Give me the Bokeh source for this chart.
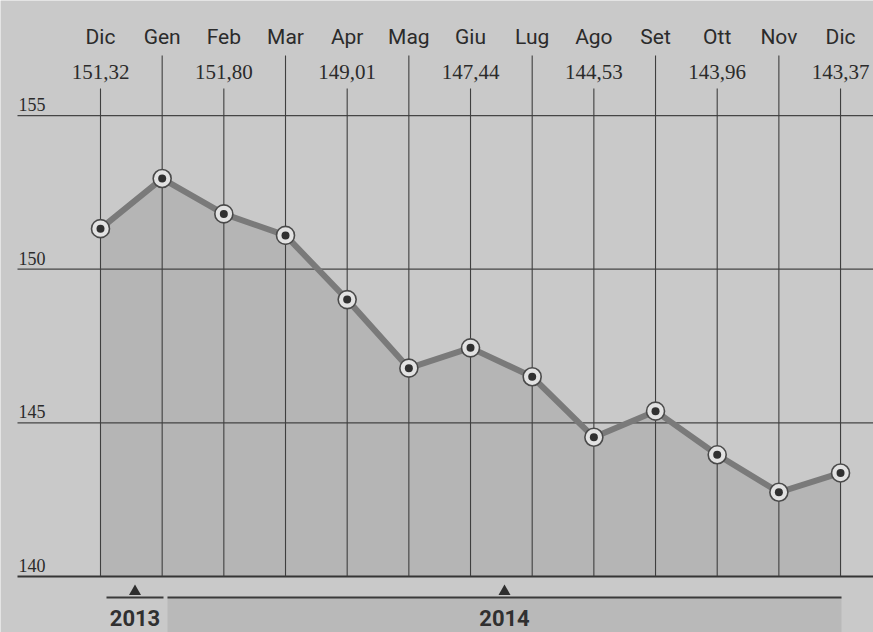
from bokeh.plotting import figure
from bokeh.models import Range1d
from bokeh.core.properties import value
from bokeh.embed import file_html
from bokeh.resources import INLINE

# ---- data ----
months = ["Dic", "Gen", "Feb", "Mar", "Apr", "Mag", "Giu", "Lug", "Ago", "Set", "Ott", "Nov", "Dic"]
values = [151.32, 152.95, 151.80, 151.10, 149.01, 146.78, 147.44, 146.50, 144.53, 145.38, 143.96, 142.74, 143.37]
y_ticks = [140, 145, 150, 155]
years = ["2013", "2014"]

# ---- layout helpers (pixel -> data units) ----
FW, FH = 873, 632
DX = 61.67          # px per month
X0 = 100.0          # x of first month
PY140 = 576.0       # y of value 140
PPU = 30.73         # px per unit

def ix(px):
    return (px - X0) / DX

def vy(py):
    return 140 + (PY140 - py) / PPU

xs, xe = ix(0), ix(FW)
ye, ys = vy(0), vy(FH)

BG = "#c9c9c9"
p = figure(width=FW, height=FH, x_range=Range1d(xs, xe), y_range=Range1d(ys, ye),
           output_backend="svg", toolbar_location=None, min_border=0)
p.axis.visible = False
p.grid.visible = False
p.outline_line_color = None
p.background_fill_color = BG
p.border_fill_color = BG

idx = list(range(len(months)))

# area under the line
p.varea(x=idx, y1=[140] * len(idx), y2=values, fill_color="#b5b5b5")

# horizontal grid lines
p.segment(x0=[ix(17)] * 3, x1=[xe] * 3, y0=y_ticks[1:], y1=y_ticks[1:],
          line_color="#454545", line_width=1.3)
p.segment(x0=[ix(17)], x1=[xe], y0=[140], y1=[140], line_color="#353535", line_width=2)

# vertical lines
tops = [vy(88) if i % 2 == 0 else vy(55) for i in idx]
p.segment(x0=idx, x1=idx, y0=[140] * len(idx), y1=tops, line_color="#3f3f3f", line_width=1.1)

# series line and markers
p.line(idx, values, line_color="#7a7a7a", line_width=6)
p.scatter(idx, values, size=18, fill_color="#e2e2e2", line_color="#4a4a4a", line_width=1.6)
p.scatter(idx, values, size=8, fill_color="#303030", line_color=None)

# month labels
p.text(x=idx, y=[vy(36)] * len(idx), text=months, text_align="center",
       text_baseline="middle", text_font=value("Roboto"), text_font_size="21px",
       text_color="#2b2b2b")

# value labels (every other month)
even = idx[::2]
p.text(x=even, y=[vy(71)] * len(even),
       text=[f"{values[i]:.2f}".replace(".", ",") for i in even],
       text_align="center", text_baseline="middle",
       text_font=value("Liberation Serif"), text_font_size="21px", text_color="#2b2b2b")

# y labels
p.text(x=[ix(18)] * len(y_ticks), y=[t + 11 / PPU for t in y_ticks], text=[str(t) for t in y_ticks],
       text_align="left", text_baseline="middle",
       text_font=value("Liberation Serif"), text_font_size="18px", text_color="#2b2b2b")

# year band
p.quad(left=[ix(167)], right=[ix(841)], bottom=[ys], top=[vy(597)], fill_color="#b9b9b9", line_color=None)
seg_l = [ix(106), ix(167)]
seg_r = [ix(163), ix(841)]
p.segment(x0=seg_l, x1=seg_r, y0=[vy(597)] * 2, y1=[vy(597)] * 2, line_color="#3a3a3a", line_width=2)
mids = [(a + b) / 2 for a, b in zip(seg_l, seg_r)]
p.scatter(mids, [vy(591)] * 2, marker="triangle", size=12, fill_color="#2e2e2e", line_color=None)
p.text(x=mids, y=[vy(617)] * 2, text=years, text_align="center", text_baseline="middle",
       text_font=value("Roboto"), text_font_style="bold", text_font_size="22px", text_color="#303030")

open("out.html", "w").write(file_html(p, INLINE))
